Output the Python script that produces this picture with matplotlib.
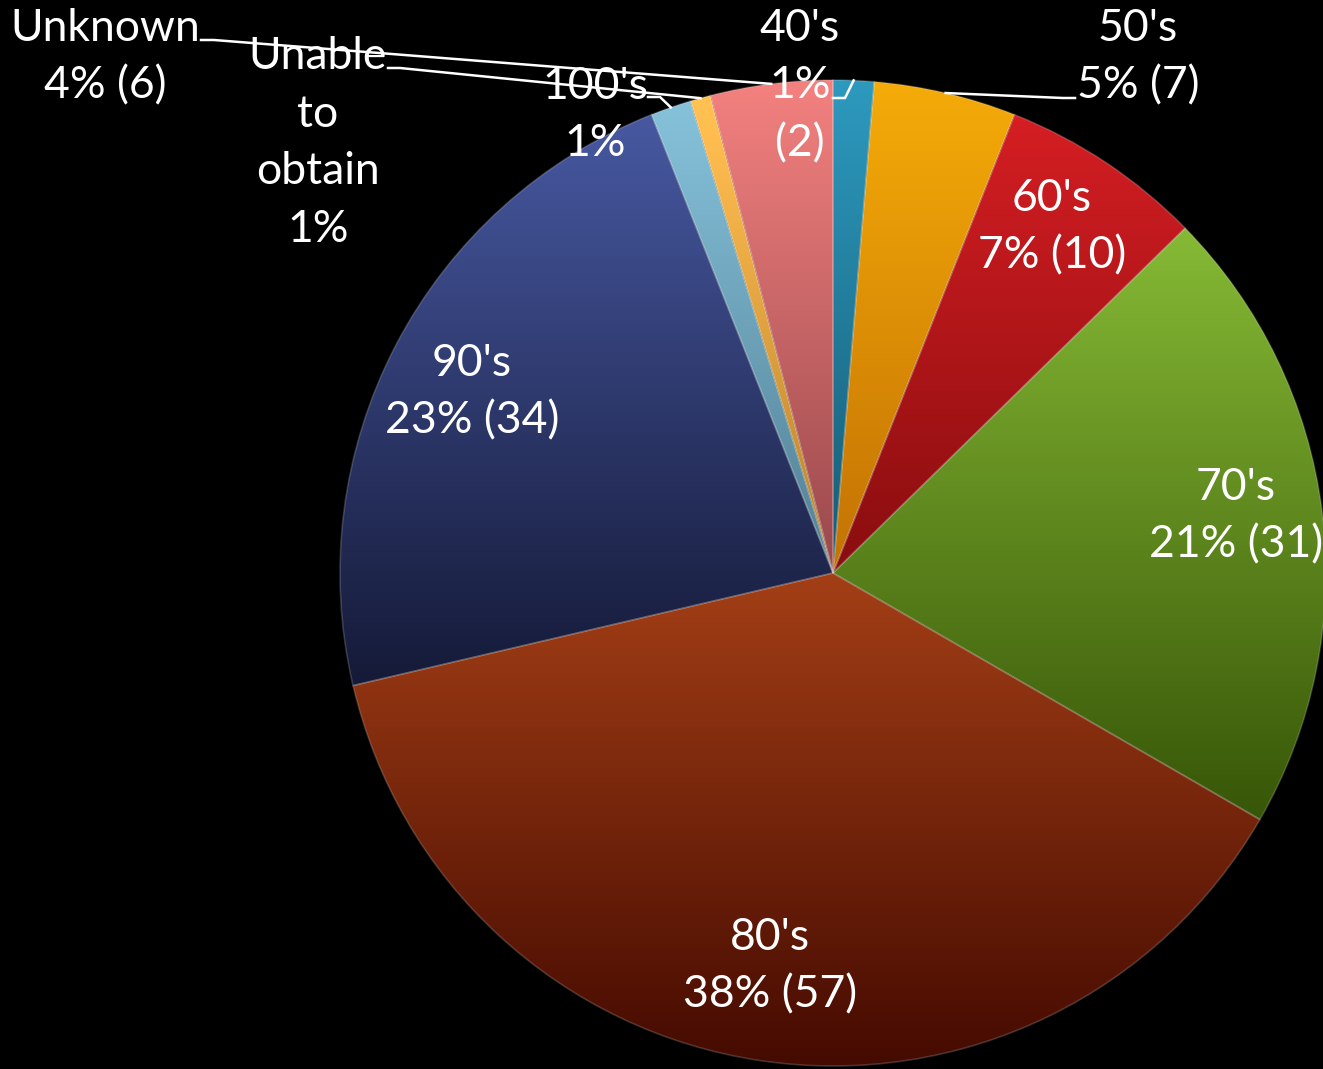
import numpy as np
import matplotlib
matplotlib.use("Agg")
import matplotlib.pyplot as plt
from matplotlib.colors import to_rgb

# decade counts, clockwise from 12 o'clock
names = ["40's", "50's", "60's", "70's", "80's", "90's", "100's", "Unable to obtain", "Unknown"]
counts = [2, 7, 10, 31, 57, 34, 2, 1, 6]
show_count = [True, True, True, True, True, True, False, False, True]
wrap_words = [True, False, False, False, False, False, False, True, False]

# vertical shading per slice: colour near the top / near the bottom of the pie
upper = ["#2687a8", "#e69a07", "#c21a1e", "#86ba35", "#e66425", "#3d4c8c", "#78b0c8", "#f0b048", "#d87070"]
lower = ["#053040", "#a04a00", "#500000", "#2a4500", "#611a07", "#00000c", "#2a5060", "#805010", "#5a2028"]

# label centres in pixel coordinates (y measured from the top)
label_pos = [(800, 86), (1138, 57), (1052, 227), (1236, 516), (770, 966),
             (472, 392), (595, 115), (318, 143), (105, 57)]
# leader lines: start point and end of the short horizontal stub
leaders = {0: [(833, 98), (845, 98)],
           1: [(1075, 98), (1063, 98)],
           6: [(648, 97), (660, 97)],
           7: [(388, 68), (400, 68)],
           8: [(201, 40), (214, 40)]}

W, H = 1323, 1069
CX, CY, R = 833, H - 573, 493

plt.rcParams['font.family'] = ['Lato', 'DejaVu Sans']

fig = plt.figure(figsize=(W / 100, H / 100), dpi=100, facecolor="black")
ax = fig.add_axes([0, 0, 1, 1])
ax.set_facecolor("black")

wedges, _ = ax.pie(counts, startangle=90, counterclock=False, radius=R, center=(CX, CY),
                   wedgeprops=dict(linewidth=1.2, edgecolor=(1, 1, 1, 0.18)))

N = 600
t = np.linspace(0, 1, N)
u = (t - 0.15) / 0.7
for w, cu, cl in zip(wedges, upper, lower):
    cu, cl = np.array(to_rgb(cu)), np.array(to_rgb(cl))
    col = np.clip(cu + (cl - cu) * u[:, None], 0, 1)
    img = np.repeat(col[:, None, :], 2, axis=1)
    im = ax.imshow(img, extent=(CX - R, CX + R, CY - R, CY + R), origin="upper",
                   interpolation="bilinear", zorder=2, aspect="auto")
    im.set_clip_path(w)
    w.set_facecolor("none")
    w.set_zorder(3)

total = sum(counts)
for i, (name, n) in enumerate(zip(names, counts)):
    pct = round(100 * n / total)
    s = f"{pct}%" + (f" ({n})" if show_count[i] else "")
    txt = f"{name}\n{s}"
    if wrap_words[i]:
        txt = txt.replace(" ", "\n")
    x, y = label_pos[i]
    ax.text(x, H - y, txt, color="white", fontsize=32, ha="center", va="center",
            linespacing=1.5, zorder=5)

# leader lines run to the middle of each small slice's outer edge
for i, pts in leaders.items():
    w = wedges[i]
    mid = np.deg2rad((w.theta1 + w.theta2) / 2)
    ex, ey = CX + R * np.cos(mid), CY + R * np.sin(mid)
    xs = [p[0] for p in pts] + [ex]
    ys = [H - p[1] for p in pts] + [ey]
    ax.plot(xs, ys, color="white", lw=1.8, zorder=6)

ax.set_xlim(0, W)
ax.set_ylim(0, H)
ax.axis("off")

fig.savefig("out.png", dpi=100, facecolor="black")
